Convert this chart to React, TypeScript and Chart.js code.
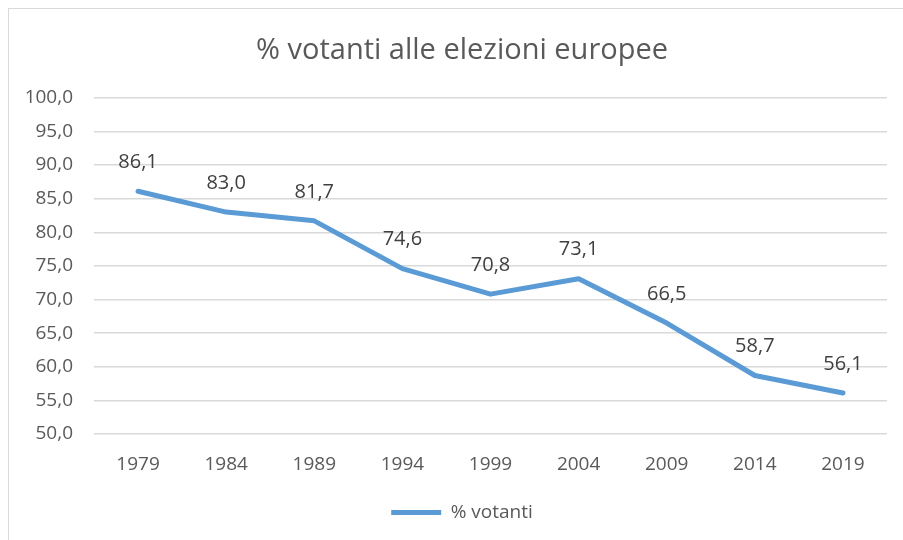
import React, { useEffect, useRef } from "react";
import { Chart, registerables } from "chart.js";

Chart.register(...registerables);

const title = "% votanti alle elezioni europee";
const seriesName = "% votanti";
const years = ["1979", "1984", "1989", "1994", "1999", "2004", "2009", "2014", "2019"];
const turnout = [86.1, 83.0, 81.7, 74.6, 70.8, 73.1, 66.5, 58.7, 56.1];
const yMin = 50;
const yMax = 100;
const yStep = 5;

const FONT = "'Open Sans', 'Noto Sans', sans-serif";
const fmt = (v: number) => v.toFixed(1).replace(".", ",");

const dataLabels = {
  id: "dataLabels",
  afterDatasetsDraw(chart: any) {
    const ctx = chart.ctx;
    const meta = chart.getDatasetMeta(0);
    const data = chart.data.datasets[0].data as number[];
    ctx.save();
    ctx.font = `20px ${FONT}`;
    ctx.fillStyle = "#404040";
    ctx.textAlign = "center";
    ctx.textBaseline = "middle";
    meta.data.forEach((pt: any, i: number) => {
      ctx.fillText(fmt(data[i]), pt.x, pt.y - 29);
    });
    ctx.restore();
  },
};

// let the y tick labels use the space left of the axis box (avoid clipping)
const widenYLabelArea = {
  id: "widenYLabelArea",
  afterLayout(chart: any) {
    if (chart.scales.y) chart.scales.y.left = 0;
  },
};

export default function App() {
  const ref = useRef<HTMLCanvasElement | null>(null);
  useEffect(() => {
    if (!ref.current) return;
    const chart = new Chart(ref.current, {
      type: "line",
      data: {
        labels: years,
        datasets: [
          {
            label: seriesName,
            data: turnout,
            borderColor: "#5B9BD5",
            backgroundColor: "#5B9BD5",
            borderWidth: 5,
            pointRadius: 0,
            pointHoverRadius: 0,
            tension: 0,
            borderCapStyle: "round",
            borderJoinStyle: "round",
            fill: false,
          },
        ],
      },
      options: {
        animation: false,
        responsive: false,
        maintainAspectRatio: false,
        layout: { padding: { top: 0, left: 28, right: 16, bottom: 8 } },
        plugins: {
          title: {
            display: true,
            text: title,
            color: "#595959",
            font: { family: FONT, size: 29, weight: "normal" },
            padding: { top: 24, bottom: 30 },
          },
          legend: {
            position: "bottom",
            labels: {
              usePointStyle: true,
              pointStyle: "line",
              pointStyleWidth: 50,
              color: "#595959",
              font: { family: FONT, size: 19 },
              padding: 10,
            },
          },
          tooltip: { enabled: false },
        },
        scales: {
          x: {
            offset: true,
            grid: { display: false, drawTicks: false },
            border: { display: false },
            ticks: {
              color: "#595959",
              font: { family: FONT, size: 19 },
              padding: 19,
            },
            afterFit: (scale: any) => {
              scale.height = 59;
            },
          },
          y: {
            min: yMin,
            max: yMax,
            grid: { color: "#d9d9d9", lineWidth: 1.5, drawTicks: false },
            border: { display: false },
            ticks: {
              stepSize: yStep,
              color: "#595959",
              font: { family: FONT, size: 19 },
              padding: 21,
              callback: (v: any) => fmt(Number(v)),
            },
            afterFit: (scale: any) => {
              scale.width = 57;
            },
          },
        },
      },
      plugins: [dataLabels, widenYLabelArea],
    } as any);
    return () => chart.destroy();
  }, []);

  return (
    <div
      style={{
        position: "fixed",
        left: 8,
        top: 8,
        width: 895,
        height: 532,
        boxSizing: "border-box",
        borderLeft: "1px solid #d9d9d9",
        borderTop: "1px solid #d9d9d9",
        background: "#fff",
      }}
    >
      <canvas ref={ref} width={894} height={531} style={{ display: "block" }} />
    </div>
  );
}
